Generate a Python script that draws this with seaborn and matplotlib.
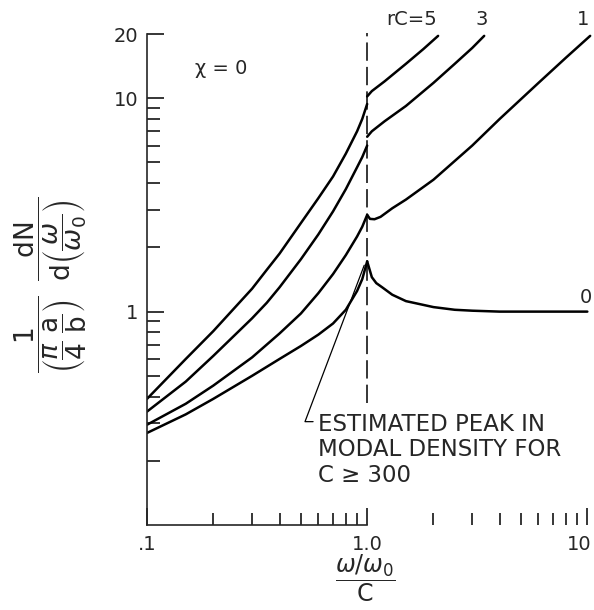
import numpy as np
import pandas as pd
import matplotlib
matplotlib.use("Agg")
import matplotlib.pyplot as plt
import matplotlib.transforms as mtransforms
import seaborn as sns

# curves: below and above omega/omega0/C = 1
x5_lo = [0.1, 0.15, 0.2, 0.3, 0.35, 0.4, 0.5, 0.6, 0.7, 0.8, 0.9, 0.95, 1.0]
y5_lo = [0.39, 0.60, 0.81, 1.28, 1.57, 1.87, 2.6, 3.4, 4.3, 5.5, 7.0, 8.0, 9.4]
x5_hi = [1.0, 1.05, 1.2, 1.5, 1.8, 2.1]
y5_hi = [10.2, 10.8, 12.0, 14.5, 17.0, 19.6]

x3_lo = [0.1, 0.15, 0.2, 0.3, 0.35, 0.4, 0.5, 0.6, 0.7, 0.8, 0.9, 0.95, 1.0]
y3_lo = [0.34, 0.47, 0.62, 0.93, 1.1, 1.3, 1.76, 2.3, 2.95, 3.75, 4.75, 5.3, 6.0]
x3_hi = [1.0, 1.05, 1.2, 1.5, 2.0, 2.5, 3.0, 3.4]
y3_hi = [6.6, 7.0, 7.8, 9.2, 11.8, 14.5, 17.2, 19.6]

x1_lo = [0.1, 0.15, 0.2, 0.3, 0.4, 0.5, 0.6, 0.7, 0.8, 0.9, 0.95, 1.0]
y1_lo = [0.295, 0.37, 0.45, 0.61, 0.79, 0.98, 1.22, 1.5, 1.84, 2.25, 2.5, 2.84]
x1_hi = [1.0, 1.03, 1.08, 1.15, 1.3, 1.5, 2.0, 3.0, 4.0, 6.0, 8.0, 10.3]
y1_hi = [2.84, 2.72, 2.71, 2.78, 3.05, 3.35, 4.15, 6.0, 8.0, 11.8, 15.5, 19.6]

x0_lo = [0.1, 0.15, 0.2, 0.3, 0.4, 0.5, 0.6, 0.7, 0.8, 0.9, 0.95, 1.0]
y0_lo = [0.27, 0.33, 0.39, 0.5, 0.6, 0.69, 0.78, 0.88, 1.02, 1.25, 1.42, 1.72]
x0_hi = [1.0, 1.05, 1.1, 1.17, 1.3, 1.5, 2.0, 2.5, 3.0, 4.0, 6.0, 10.0]
y0_hi = [1.72, 1.45, 1.36, 1.3, 1.2, 1.12, 1.05, 1.02, 1.01, 1.0, 1.0, 1.0]

curve_labels = ["rC=5", "3", "1", "0"]
label_x = [1.6, 3.3, 9.6, 9.8]
label_y = [23.5, 23.5, 23.5, 1.17]

# leader line from the note up to the peak
leader_x = [0.97, 0.522, 0.568]
leader_y = [1.65, 0.305, 0.305]

xticks = [0.1, 1.0, 10.0]
xticklabels = [".1", "1.0", "10"]
yticks = [1, 10, 20]
yticklabels = ["1", "10", "20"]
minor_ticks = [0.2, 0.3, 0.4, 0.5, 0.6, 0.7, 0.8, 0.9, 2, 3, 4, 5, 6, 7, 8, 9]

rows = []
segs = [("5a", x5_lo, y5_lo), ("5b", x5_hi, y5_hi),
        ("3a", x3_lo, y3_lo), ("3b", x3_hi, y3_hi),
        ("1a", x1_lo, y1_lo), ("1b", x1_hi, y1_hi),
        ("0a", x0_lo, y0_lo), ("0b", x0_hi, y0_hi)]
for name, xs, ys in segs:
    for xv, yv in zip(xs, ys):
        rows.append({"seg": name, "x": xv, "y": yv})
df = pd.DataFrame(rows)

sns.set_style("ticks")
plt.rcParams["font.family"] = ["DejaVu Sans"]
plt.rcParams["mathtext.fontset"] = "dejavusans"

fig = plt.figure(figsize=(5.94, 6.10), dpi=100)
ax = fig.add_axes([147 / 594, 85 / 610, 445 / 594, 491 / 610])
ax.set_xscale("log")
ax.set_yscale("log")

sns.lineplot(data=df, x="x", y="y", units="seg", estimator=None, sort=False,
             color="black", linewidth=1.8, ax=ax, legend=False)

# vertical dashed line at 1.0
ax.plot([1.0, 1.0], [0.373, 20.3], color="black", linewidth=1.1,
        dashes=(12, 4), clip_on=False)
ax.plot(leader_x, leader_y, color="black", linewidth=0.9)

ax.set_xlim(0.1, 10.5)
ax.set_ylim(0.1, 20)

ax.set_xticks(xticks, labels=xticklabels)
ax.set_xticks(minor_ticks, minor=True)
ax.set_yticks(yticks, labels=yticklabels)
ax.set_yticks(minor_ticks, minor=True)
ax.xaxis.set_minor_formatter(matplotlib.ticker.NullFormatter())
ax.yaxis.set_minor_formatter(matplotlib.ticker.NullFormatter())

ax.tick_params(axis="both", which="major", direction="in", length=12,
               width=1.1, labelsize=14, color="black")
ax.tick_params(axis="both", which="minor", direction="in", length=9,
               width=1.1, color="black")
ax.tick_params(axis="x", which="major", pad=7)
ax.tick_params(axis="y", which="major", pad=6)

# keep the "10" at the right inside the figure
last = ax.get_xticklabels()[-1]
last.set_transform(last.get_transform() +
                   mtransforms.ScaledTranslation(-8 / 100, 0, fig.dpi_scale_trans))

sns.despine(ax=ax)
ax.spines["bottom"].set_bounds(0.1, 1.0)
ax.spines["left"].set_linewidth(1.2)
ax.spines["bottom"].set_linewidth(1.2)

for lab, lx, ly in zip(curve_labels, label_x, label_y):
    ax.text(lx, ly, lab, fontsize=14, ha="center", va="center")

ax.text(0.166, 13.8, "χ = 0", fontsize=14, ha="left", va="center")
ax.text(0.598, 0.334, "ESTIMATED PEAK IN\nMODAL DENSITY FOR\nC ≥ 300",
        fontsize=16.5, ha="left", va="top", linespacing=1.12)

ax.set_xlabel(r"$\dfrac{\omega/\omega_0}{\mathrm{C}}$", fontsize=17)
ax.xaxis.set_label_coords(0.49, -0.108)
ax.xaxis.label.set_va("center")
ax.set_ylabel(r"$\dfrac{1}{\left(\dfrac{\pi}{4}\;\dfrac{\mathrm{a}}{\mathrm{b}}\right)}"
              r"\;\;\dfrac{\mathrm{dN}}{\mathrm{d}\left(\dfrac{\omega}{\omega_0}\right)}$",
              fontsize=19)
ax.yaxis.set_label_coords(-0.215, 0.49)
ax.yaxis.label.set_va("center")

fig.savefig("out.png", dpi=100)
